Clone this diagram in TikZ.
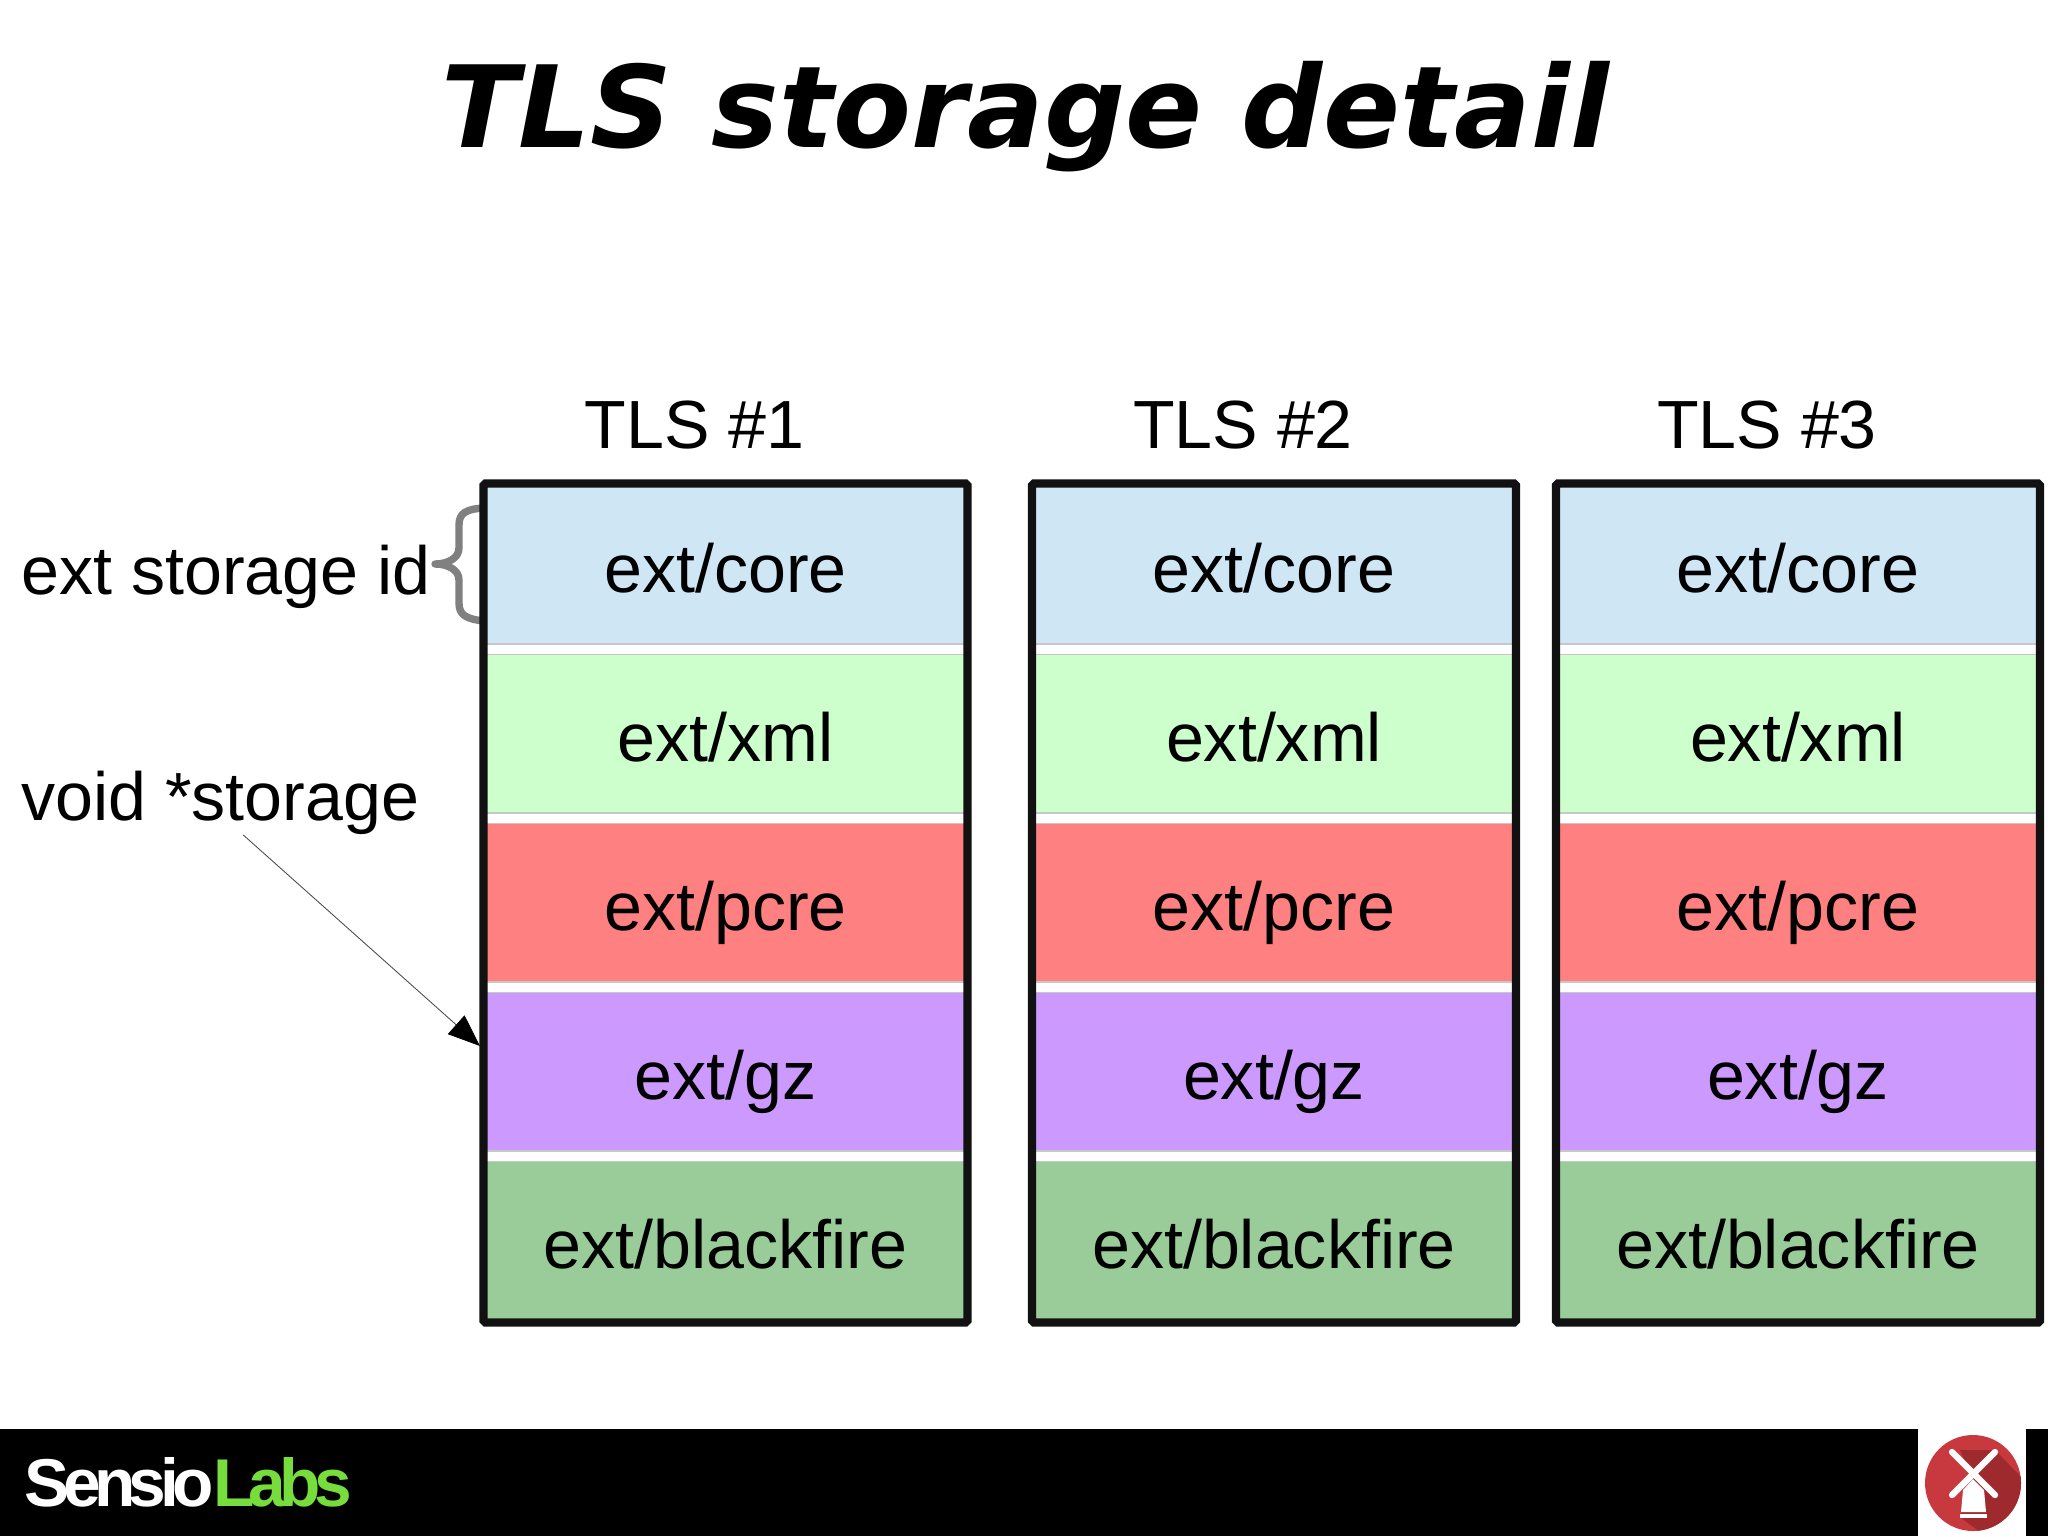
\documentclass[tikz,border=0pt]{standalone}
\usepackage{fontspec}
\setmainfont{Liberation Sans}
\newfontfamily\titlefont{DejaVu Sans}
\newfontfamily\logofont[LetterSpace=-9.6]{Liberation Sans}
\usetikzlibrary{arrows.meta}
\definecolor{corecol}{HTML}{CFE7F5}
\definecolor{xmlcol}{HTML}{CCFFCC}
\definecolor{pcrecol}{HTML}{FF8080}
\definecolor{gzcol}{HTML}{CC99FF}
\definecolor{blackfirecol}{HTML}{99CC99}
\definecolor{framecol}{HTML}{111111}
\definecolor{millcol}{HTML}{C8393F}
\definecolor{shadecol}{HTML}{9E2A2E}
\definecolor{labscol}{HTML}{76DD3C}
\tikzset{
  bodytext/.style={font=\fontsize{38.8}{46}\selectfont, inner sep=0pt, anchor=base},
  cell/.style={draw=black!22, line width=.6pt, minimum width=9.67cm, minimum height=3.18cm, inner sep=0pt,
    font=\fontsize{38.8}{46}\selectfont, text height=34.5pt, text depth=3pt},
  tlsframe/.style={draw=framecol, line width=4.7pt, rounded corners=1pt, minimum width=9.68cm, minimum height=16.78cm, inner sep=0pt},
  pointer/.style={-{Triangle[length=.64cm, width=.5cm, color=black]}, black!70, line width=.5pt},
}
\begin{document}
\begin{tikzpicture}[x=.02cm, y=-.02cm]
\useasboundingbox (0,0) rectangle (2048,1536);
\node[font=\titlefont\bfseries\itshape\fontsize{64.6}{70}\selectfont, inner sep=0pt, anchor=base] (title) at (1025,147.5) {TLS storage detail};

\draw[black!50, line width=4.2pt, line cap=round, line join=round]
  (484,508) .. controls (466,509) and (459,513) .. (459,525) -- (459,548)
  .. controls (459,558) and (448,564) .. (435,564)
  .. controls (448,564) and (459,570) .. (459,580) -- (459,603)
  .. controls (459,615) and (466,619) .. (484,621);

\foreach \c/\x in {1/725.5, 2/1274, 3/1798}{
  \node[bodytext] (tls\c) at (\x-31,448.5) {TLS \#\c};
  \foreach \r/\col [count=\k from 0] in {core/corecol, xml/xmlcol, pcre/pcrecol, gz/gzcol, blackfire/blackfirecol}{
    \node[cell, fill=\col] (\r\c) at (\x,564.5+169*\k) {ext/\r};
  }
  \node[tlsframe] (frame\c) at (\x,903) {};
}

\node[bodytext, anchor=base west] (extid) at (21,594) {ext storage id};
\node[bodytext, anchor=base west] (void) at (21,820.5) {void *storage};

\coordinate (tip) at (480,1046);
\draw[pointer] ([xshift=.46cm]void.south) -- (tip);

\fill[black] (0,1429) rectangle (2048,1536);
\fill[white] (1918,1429) rectangle (2026,1536);
\node[font=\logofont\bfseries\fontsize{38.5}{44}\selectfont, inner sep=0pt, anchor=base west, text=white] (logo) at (24,1506) {Sensio\textcolor{labscol}{Labs}};

\fill[millcol] (1973,1483) circle (48);
\begin{scope}
  \clip (1973,1483) circle (48);
  \fill[shadecol] (1960,1450) -- (1995,1450) -- (2027,1483) -- (2020,1510) -- (1993,1532) -- (1980,1532) -- (1960,1517) -- (1973,1480) -- cycle;
\end{scope}
\draw[white, line width=3.6pt, line cap=round] (1952,1452) -- (1995,1495) (1995,1452) -- (1952,1495);
\fill[white] (1973,1479) -- (1984,1490) -- (1986,1512) -- (1961,1512) -- (1963,1490) -- cycle;
\fill[white] (1960,1514) rectangle (1987,1518);
\end{tikzpicture}
\end{document}
